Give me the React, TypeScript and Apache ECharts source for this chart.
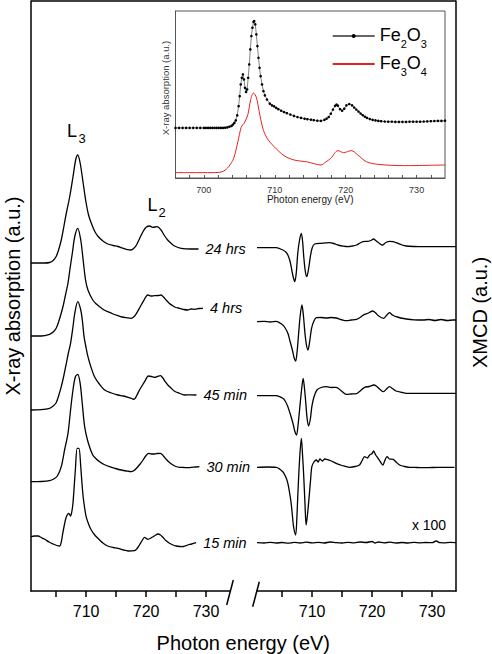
import React, { useEffect, useRef } from 'react';
import * as echarts from 'echarts';

const FONT = '"Liberation Sans", Arial, Helvetica, sans-serif';

// ---------- axis ranges / ticks ----------
const MAIN_MIN = 700.8;
const MAIN_MAX = 734;
const mainTickValues = [705, 710, 715, 720, 725, 730];
const mainLabelValues = [710, 720, 730];
const INSET_MIN = 696;
const INSET_MAX = 734;
const insetTickValues = [698, 700, 702, 704, 706, 708, 710, 712, 714, 716, 718, 720, 722, 724, 726, 728, 730, 732];
const insetLabelValues = [700, 710, 720, 730];

const timeLabels = ['24 hrs', '4 hrs', '45 min', '30 min', '15 min'];

// ---------- XAS spectra (energy eV, offset intensity a.u.) ----------
const xas24h = [[700.8,32.8],[702,32.8],[703,32.8],[703.9,32.85],[704.5,33.05],[705.0,33.45],[705.4,34.1],[705.85,35.1],[706.3,36.5],[706.7,37.8],[707.25,39.4],[707.8,41.4],[708.25,43.1],[708.6,43.6],[709.0,42.8],[709.5,40.8],[710.0,38.8],[710.4,37.6],[710.85,36.8],[711.4,36.0],[712.0,35.45],[712.8,35.0],[713.6,34.7],[714.5,34.55],[715.3,34.45],[716.0,34.3],[716.7,34.17],[717.5,34.1],[718.0,34.3],[718.4,34.6],[718.8,35.1],[719.2,35.6],[719.6,36.05],[720.0,36.37],[720.6,36.5],[721.1,36.37],[721.85,36.43],[722.5,36.1],[723.0,35.6],[723.6,35.1],[724.2,34.75],[724.75,34.5],[725.85,34.27],[727.5,34.2],[728.75,34.2]];
const xas4h = [[700.8,25.5],[702.5,25.5],[703.9,25.67],[704.5,25.9],[705.0,26.27],[705.4,26.9],[705.85,27.8],[706.2,28.6],[706.5,29.45],[706.97,30.8],[707.3,32.2],[707.7,33.8],[708.1,35.45],[708.6,36.27],[709.1,35.1],[709.5,33.1],[709.9,31.1],[710.3,30.1],[711.1,29.1],[711.7,28.7],[712.25,28.43],[713.0,28.1],[713.6,27.93],[714.5,27.7],[715.3,27.53],[716.0,27.4],[716.7,27.33],[717.5,27.27],[718.0,27.45],[718.4,27.77],[719.0,28.4],[719.5,28.93],[720.3,29.6],[720.8,29.5],[721.4,29.53],[722.0,29.55],[722.5,29.6],[722.9,29.4],[723.35,29.1],[723.9,28.75],[724.5,28.5],[725.0,28.35],[725.6,28.27],[726.3,28.15],[726.95,28.1],[727.5,28.2],[728.1,28.17],[728.8,28.25],[729.5,28.27]];
const xas45m = [[700.8,18.1],[702.5,18.13],[703.9,18.27],[704.5,18.5],[705.0,18.83],[705.4,19.5],[705.85,20.43],[706.3,21.6],[706.7,22.77],[707.0,23.7],[707.4,24.77],[707.8,26.4],[708.1,27.77],[708.6,28.93],[709.1,28.1],[709.4,26.9],[709.65,25.43],[710.0,24.3],[710.3,23.43],[710.8,22.4],[711.4,21.43],[712.2,20.7],[713.1,20.1],[714.2,19.8],[715.3,19.6],[716.2,19.5],[717.0,19.37],[717.6,19.25],[718.0,19.17],[718.4,19.5],[718.9,20.1],[719.3,20.5],[719.75,20.93],[720.4,21.5],[720.9,21.45],[721.4,21.37],[721.9,21.45],[722.4,21.53],[722.8,21.3],[723.2,20.93],[723.7,20.55],[724.2,20.27],[724.7,20.0],[725.3,19.83],[725.9,19.7],[726.4,19.6],[727.4,19.62],[728.4,19.6]];
const xas30m = [[700.8,10.93],[702.5,10.95],[703.9,11.03],[704.6,11.2],[705.2,11.5],[705.85,12.43],[706.4,14.1],[706.97,15.77],[707.4,18.1],[707.8,20.1],[708.2,21.43],[708.6,21.67],[709.0,20.77],[709.35,18.77],[709.75,16.43],[710.3,14.93],[711.1,13.6],[711.7,13.2],[712.25,12.93],[713.0,12.65],[713.9,12.43],[714.9,12.25],[715.85,12.1],[716.7,12.0],[717.5,11.93],[718.0,12.05],[718.4,12.27],[719.0,12.7],[719.5,13.1],[720.0,13.55],[720.4,13.77],[720.9,13.7],[721.4,13.7],[721.9,13.75],[722.4,13.77],[722.9,13.5],[723.35,13.17],[723.9,12.85],[724.5,12.6],[725.0,12.45],[725.6,12.37],[726.3,12.35],[726.95,12.33],[727.9,12.38],[728.9,12.43]];
const xas15m = [[700.8,5.43],[701.4,5.5],[702.0,5.5],[702.5,5.35],[703.1,5.17],[703.8,4.9],[704.5,4.7],[705.1,4.55],[705.6,4.5],[705.85,4.9],[706.1,5.77],[706.4,6.7],[706.7,7.43],[707.1,7.77],[707.4,7.5],[707.6,7.9],[707.8,8.77],[708.0,10.4],[708.2,12.1],[708.5,14.27],[708.8,14.27],[709.1,12.43],[709.3,10.8],[709.5,9.43],[709.75,8.3],[710.0,7.43],[710.4,6.7],[710.85,6.1],[711.5,5.55],[712.25,5.1],[712.9,4.75],[713.6,4.5],[714.5,4.35],[715.3,4.27],[716.2,4.1],[717.0,4.0],[718.1,4.03],[718.5,4.25],[718.9,4.6],[719.3,5.0],[719.75,5.37],[720.3,5.17],[721.0,5.37],[721.5,5.55],[721.95,5.7],[722.4,5.6],[722.8,5.37],[723.3,5.05],[723.9,4.77],[724.5,4.6],[725.0,4.5],[726.1,4.43],[726.5,4.5],[726.95,4.6],[727.6,4.7],[728.35,4.83]];

// ---------- XMCD spectra ----------
const xmcd24h = [[700.8,34.33],[702.5,34.33],[704.0,34.33],[705.1,34.1],[705.6,33.9],[705.95,33.6],[706.3,33.0],[706.5,32.43],[706.8,31.5],[707.1,30.93],[707.35,31.8],[707.6,33.77],[707.9,35.1],[708.2,35.77],[708.4,35.0],[708.6,33.43],[708.85,32.0],[709.1,31.43],[709.4,32.2],[709.7,33.43],[710.0,34.3],[710.4,34.7],[711.5,34.77],[712.9,34.83],[713.6,34.75],[714.3,34.6],[715.2,34.48],[716.0,34.43],[716.7,34.5],[717.4,34.6],[718.0,34.8],[718.5,34.93],[719.3,34.97],[719.8,35.05],[720.25,35.2],[720.6,35.05],[721.0,34.87],[721.7,34.6],[722.3,34.85],[722.9,34.97],[723.5,34.93],[724.0,34.83],[725.0,34.6],[725.7,34.5],[727.0,34.45],[728.5,34.43],[731,34.43],[734,34.43]];
const xmcd4h = [[700.8,26.93],[702,26.97],[703,26.9],[704.0,26.97],[705.1,26.6],[705.5,26.3],[705.95,25.77],[706.3,25.0],[706.7,24.1],[707.0,23.3],[707.25,23.0],[707.5,24.0],[707.75,25.77],[708.0,27.5],[708.3,28.6],[708.55,27.5],[708.8,25.77],[709.05,24.6],[709.3,24.1],[709.6,25.0],[709.9,26.27],[710.3,27.0],[710.7,27.33],[711.5,27.35],[712.4,27.3],[713.2,27.35],[714.0,27.3],[714.8,27.15],[715.7,27.03],[716.5,27.1],[717.4,27.17],[718.1,27.4],[718.75,27.67],[719.4,27.8],[720.1,28.0],[720.6,27.8],[721.1,27.5],[721.9,27.27],[722.4,27.55],[722.9,27.83],[723.4,27.6],[724.0,27.43],[724.8,27.3],[725.7,27.2],[727,27.12],[728.5,27.1],[729.5,27.15],[730.5,27.05],[731.5,27.15],[732.5,27.05],[733.5,27.1],[734,27.1]];
const xmcd45m = [[700.8,19.53],[702.5,19.53],[704.0,19.53],[705.1,19.27],[705.5,19.0],[705.95,18.43],[706.4,17.6],[706.8,16.77],[707.1,16.0],[707.4,15.6],[707.65,16.6],[707.9,18.1],[708.2,19.9],[708.5,21.27],[708.7,20.4],[708.9,19.1],[709.15,17.3],[709.4,16.5],[709.7,17.2],[709.95,18.43],[710.3,19.4],[710.8,20.1],[711.5,20.35],[712.4,20.43],[713.2,20.35],[714.0,20.37],[714.9,20.0],[715.7,19.67],[716.5,19.7],[717.4,19.73],[718.1,20.05],[718.75,20.37],[719.5,20.45],[720.3,20.6],[720.8,20.45],[721.2,20.23],[721.9,19.93],[722.4,20.2],[722.9,20.43],[723.5,20.2],[724.0,20.0],[725.0,19.85],[725.7,19.77],[727,19.77],[728.5,19.77],[731,19.77],[734,19.77]];
const xmcd30m = [[700.8,12.37],[702.5,12.4],[704.0,12.37],[705.1,11.93],[705.6,11.4],[705.95,10.77],[706.3,9.6],[706.5,8.77],[706.7,7.6],[706.9,6.43],[707.25,5.6],[707.45,7.3],[707.6,9.43],[707.9,13.1],[708.2,15.27],[708.4,13.6],[708.6,11.43],[708.8,8.8],[709.0,6.6],[709.25,7.8],[709.5,9.43],[709.75,11.2],[709.95,12.43],[710.3,12.9],[710.7,13.1],[711.0,12.9],[711.3,13.2],[711.7,13.0],[712.1,13.2],[712.4,13.17],[713.2,13.0],[714.0,12.77],[715.0,12.55],[716.25,12.37],[717.2,12.45],[717.9,12.6],[718.3,13.0],[718.75,13.43],[719.2,13.3],[719.6,13.6],[720.0,13.75],[720.25,14.0],[720.6,13.6],[721.0,13.27],[721.4,12.9],[721.8,12.6],[722.1,13.0],[722.5,13.43],[722.9,13.2],[723.5,13.17],[724.0,12.9],[724.6,12.6],[725.4,12.45],[726.25,12.37],[727.5,12.35],[729.0,12.33],[731.0,12.37],[733.75,12.37]];
const xmcd15m = [[700.8,4.83],[702,4.8],[703,4.87],[704,4.8],[705,4.85],[706,4.78],[707,4.86],[708,4.8],[709,4.88],[710,4.82],[711,4.86],[712,4.8],[713,4.9],[714,4.83],[715,4.8],[716,4.87],[717,4.82],[718,4.9],[719,4.85],[720,4.95],[720.5,4.8],[721,4.9],[722,4.82],[723,4.88],[724,4.8],[725,4.85],[726,4.8],[727,4.87],[728,4.82],[729,4.85],[730,4.83],[730.7,5.0],[731.3,4.83],[732,4.82],[733,4.86],[734,4.83]];

// ---------- Inset reference spectra ----------
const fe2o3 = [[696.0,3.0],[696.5,3.0],[697,3.0],[697.5,3.0],[698,3.0],[698.5,3.0],[699,3.0],[699.5,3.0],[700,3.0],[700.3,3.0],[700.6,3.0],[700.9,3.0],[701.2,3.0],[701.5,3.0],[701.8,3.0],[702.1,3.0],[702.4,3.0],[702.7,3.0],[703,3.01],[703.3,3.03],[703.6,3.07],[703.9,3.12],[704.1,3.2],[704.3,3.3],[704.5,3.45],[704.7,3.75],[704.9,4.3],[705.05,4.9],[705.2,5.6],[705.35,6.0],[705.5,6.2],[705.65,5.9],[705.8,5.4],[705.95,5.15],[706.1,5.3],[706.25,6.0],[706.4,6.8],[706.55,7.7],[706.7,8.5],[706.85,9.0],[707.0,9.35],[707.1,9.4],[707.25,9.2],[707.4,8.6],[707.55,7.9],[707.7,7.2],[707.85,6.6],[708.0,6.1],[708.2,5.6],[708.4,5.2],[708.6,4.95],[708.9,4.7],[709.3,4.45],[709.6,4.35],[709.9,4.29],[710.2,4.2],[710.5,4.12],[710.9,4.03],[711.3,3.95],[711.7,3.88],[712.2,3.8],[712.7,3.72],[713.2,3.65],[713.7,3.6],[714.2,3.55],[714.6,3.52],[715.1,3.49],[715.5,3.46],[716,3.43],[716.5,3.42],[717,3.48],[717.3,3.55],[717.6,3.65],[717.9,3.85],[718.2,4.1],[718.5,4.32],[718.7,4.39],[718.9,4.33],[719.2,4.12],[719.5,4.03],[719.8,4.15],[720.1,4.35],[720.5,4.43],[720.9,4.35],[721.2,4.22],[721.5,4.1],[721.8,3.98],[722.1,3.86],[722.4,3.76],[722.7,3.67],[723,3.6],[723.4,3.53],[723.8,3.48],[724.2,3.45],[724.6,3.42],[725,3.4],[725.5,3.38],[726,3.37],[726.5,3.37],[727,3.36],[727.5,3.36],[728,3.36],[728.5,3.36],[729,3.37],[729.5,3.37],[730,3.37],[730.5,3.37],[731,3.38],[731.5,3.39],[732,3.4],[732.5,3.41],[733,3.42],[733.5,3.42],[734,3.43]];
const fe3o4 = [[696,0.32],[698,0.32],[700,0.32],[702,0.33],[702.8,0.42],[703.5,0.68],[704.2,1.18],[704.8,2.18],[705.25,3.03],[705.5,3.2],[705.7,3.29],[706.2,3.79],[706.6,4.69],[707.0,5.09],[707.4,4.83],[707.8,3.99],[708.3,2.99],[708.9,2.39],[709.9,1.88],[711.3,1.34],[712.7,1.08],[714.6,0.96],[716.5,0.78],[717.2,0.96],[717.9,1.18],[718.9,1.64],[719.7,1.52],[720.8,1.64],[721.7,1.38],[722.9,0.98],[724.5,0.82],[728.3,0.74],[734,0.78]];

const xasData = [xas24h, xas4h, xas45m, xas30m, xas15m];
const xmcdData = [xmcd24h, xmcd4h, xmcd45m, xmcd30m, xmcd15m];

function mainXAxis(gridIndex: number) {
  return {
    type: 'value',
    gridIndex,
    min: MAIN_MIN,
    max: MAIN_MAX,
    axisLine: { show: true, onZero: false, lineStyle: { color: '#000', width: 1.5 } },
    axisTick: { show: true, customValues: mainTickValues, length: 6, inside: false, lineStyle: { color: '#000', width: 1.5 } },
    axisLabel: { show: true, customValues: mainLabelValues, margin: 12, fontSize: 16, color: '#000', fontFamily: FONT },
    splitLine: { show: false },
  };
}

function buildOption() {
  const lineBase = {
    type: 'line',
    symbol: 'none',
    showSymbol: false,
    smooth: 0.3,
    silent: true,
    lineStyle: { color: '#000', width: 1.3 },
  };
  const xasSeries = xasData.map((d, i) => ({
    ...lineBase,
    xAxisIndex: 0,
    yAxisIndex: 0,
    data: d,
    endLabel: {
      show: true,
      formatter: timeLabels[i],
      fontStyle: 'italic',
      fontSize: 14.5,
      color: '#000',
      fontFamily: FONT,
      distance: 7,
    },
  }));
  const xmcdSeries = xmcdData.map((d) => ({
    ...lineBase,
    xAxisIndex: 1,
    yAxisIndex: 1,
    data: d,
  }));

  return {
    animation: false,
    backgroundColor: '#fff',
    textStyle: { fontFamily: FONT },
    grid: [
      { left: 31, top: 1, width: 199, height: 590, containLabel: false, outerBoundsMode: 'none' },
      { left: 257, top: 1, width: 199, height: 590, containLabel: false, outerBoundsMode: 'none' },
      { left: 175.5, top: 11, width: 269.5, height: 167, containLabel: false, outerBoundsMode: 'none', show: true, backgroundColor: '#fff', borderColor: '#555', borderWidth: 1, z: 5 },
    ],
    xAxis: [
      mainXAxis(0),
      mainXAxis(1),
      {
        type: 'value',
        gridIndex: 2,
        min: INSET_MIN,
        max: INSET_MAX,
        z: 6,
        axisLine: { show: true, onZero: false, lineStyle: { color: '#555', width: 1 } },
        axisTick: { show: true, inside: true, length: 3, customValues: insetTickValues, lineStyle: { color: '#555', width: 1 } },
        axisLabel: { show: true, customValues: insetLabelValues, margin: 7, fontSize: 9, color: '#333', fontFamily: FONT },
        splitLine: { show: false },
        name: 'Photon energy (eV)',
        nameLocation: 'middle',
        nameGap: 15,
        nameTextStyle: { fontSize: 10, color: '#222', fontFamily: FONT },
      },
    ],
    yAxis: [
      {
        type: 'value',
        gridIndex: 0,
        min: 0,
        max: 59,
        axisLine: { show: true, onZero: false, lineStyle: { color: '#000', width: 1.5 } },
        axisTick: { show: false },
        axisLabel: { show: false },
        splitLine: { show: false },
        name: 'X-ray absorption (a.u.)',
        nameLocation: 'middle',
        nameRotate: 90,
        nameGap: 8,
        nameTextStyle: { fontSize: 20, color: '#000', fontFamily: FONT },
      },
      {
        type: 'value',
        gridIndex: 1,
        position: 'right',
        min: 0,
        max: 59,
        axisLine: { show: true, onZero: false, lineStyle: { color: '#000', width: 1.5 } },
        axisTick: { show: false },
        axisLabel: { show: false },
        splitLine: { show: false },
      },
      {
        type: 'value',
        gridIndex: 2,
        min: 0,
        max: 10,
        z: 6,
        axisLine: { show: true, onZero: false, lineStyle: { color: '#555', width: 1 } },
        axisTick: { show: false },
        axisLabel: { show: false },
        splitLine: { show: false },
      },
    ],
    legend: {
      show: true,
      orient: 'vertical',
      left: 331.7,
      top: 26,
      padding: 0,
      itemGap: 4,
      itemWidth: 42,
      itemHeight: 5,
      selectedMode: false,
      z: 10,
      data: ['Fe2O3', 'Fe3O4'],
      formatter: (name: string) =>
        name === 'Fe2O3' ? '{b|Fe}{s|2}{b|O}{s|3}' : '{b|Fe}{s|3}{b|O}{s|4}',
      textStyle: {
        fontFamily: FONT,
        rich: {
          b: { fontSize: 18, lineHeight: 20, padding: [0, 0, 6, 0], verticalAlign: 'top', color: '#000', fontFamily: FONT },
          s: { fontSize: 11, lineHeight: 11, padding: [12, 0, 0, 0], verticalAlign: 'top', color: '#000', fontFamily: FONT },
        },
      },
    },
    series: [
      ...xasSeries,
      ...xmcdSeries,
      {
        name: 'Fe2O3',
        type: 'line',
        xAxisIndex: 2,
        yAxisIndex: 2,
        data: fe2o3,
        z: 7,
        symbol: 'circle',
        symbolSize: 2.6,
        showSymbol: true,
        showAllSymbol: true,
        silent: true,
        itemStyle: { color: '#000' },
        lineStyle: { color: '#666', width: 0.8 },
      },
      {
        name: 'Fe3O4',
        type: 'line',
        xAxisIndex: 2,
        yAxisIndex: 2,
        data: fe3o4,
        z: 7,
        symbol: 'circle',
        showSymbol: false,
        smooth: 0.3,
        silent: true,
        itemStyle: { color: 'rgba(0,0,0,0)' },
        lineStyle: { color: '#e3231e', width: 1 },
      },
    ],
    graphic: [
      { type: 'line', z: 20, shape: { x1: 31, y1: 1, x2: 456, y2: 1 }, style: { stroke: '#000', lineWidth: 1.5 } },
      { type: 'line', z: 20, shape: { x1: 226.7, y1: 605, x2: 233.3, y2: 580 }, style: { stroke: '#000', lineWidth: 1.5 } },
      { type: 'line', z: 20, shape: { x1: 252.7, y1: 606.7, x2: 259.3, y2: 581.7 }, style: { stroke: '#000', lineWidth: 1.5 } },
      { type: 'text', z: 20, x: 67, y: 131, style: { text: 'L', fontSize: 18, fontFamily: FONT, fill: '#000', align: 'left', verticalAlign: 'middle' } },
      { type: 'text', z: 20, x: 78.5, y: 138, style: { text: '3', fontSize: 13, fontFamily: FONT, fill: '#000', align: 'left', verticalAlign: 'middle' } },
      { type: 'text', z: 20, x: 147.6, y: 204.5, style: { text: 'L', fontSize: 18, fontFamily: FONT, fill: '#000', align: 'left', verticalAlign: 'middle' } },
      { type: 'text', z: 20, x: 158.5, y: 212, style: { text: '2', fontSize: 13, fontFamily: FONT, fill: '#000', align: 'left', verticalAlign: 'middle' } },
      { type: 'text', z: 20, x: 429, y: 525, style: { text: 'x 100', fontSize: 14, fontFamily: FONT, fill: '#000', align: 'center', verticalAlign: 'middle' } },
      { type: 'text', z: 20, x: 243.3, y: 643, style: { text: 'Photon energy (eV)', fontSize: 20, fontFamily: FONT, fill: '#000', align: 'center', verticalAlign: 'middle' } },
      { type: 'text', z: 20, x: 480, y: 312.5, rotation: Math.PI / 2, style: { text: 'XMCD (a.u.)', fontSize: 20, fontFamily: FONT, fill: '#000', align: 'center', verticalAlign: 'middle' } },
      { type: 'text', z: 20, x: 165, y: 88, rotation: Math.PI / 2, style: { text: 'X-ray absorption (a.u.)', fontSize: 9.5, fontFamily: FONT, fill: '#333', align: 'center', verticalAlign: 'middle' } },
    ],
  };
}

export default function App() {
  const ref = useRef<HTMLDivElement>(null);
  useEffect(() => {
    if (!ref.current) return;
    const chart = echarts.init(ref.current, null, { renderer: 'svg' });
    chart.setOption(buildOption() as any);
    return () => chart.dispose();
  }, []);
  return (
    <div
      ref={ref}
      style={{ position: 'absolute', left: 0, top: 0, width: 492, height: 654 }}
    />
  );
}
